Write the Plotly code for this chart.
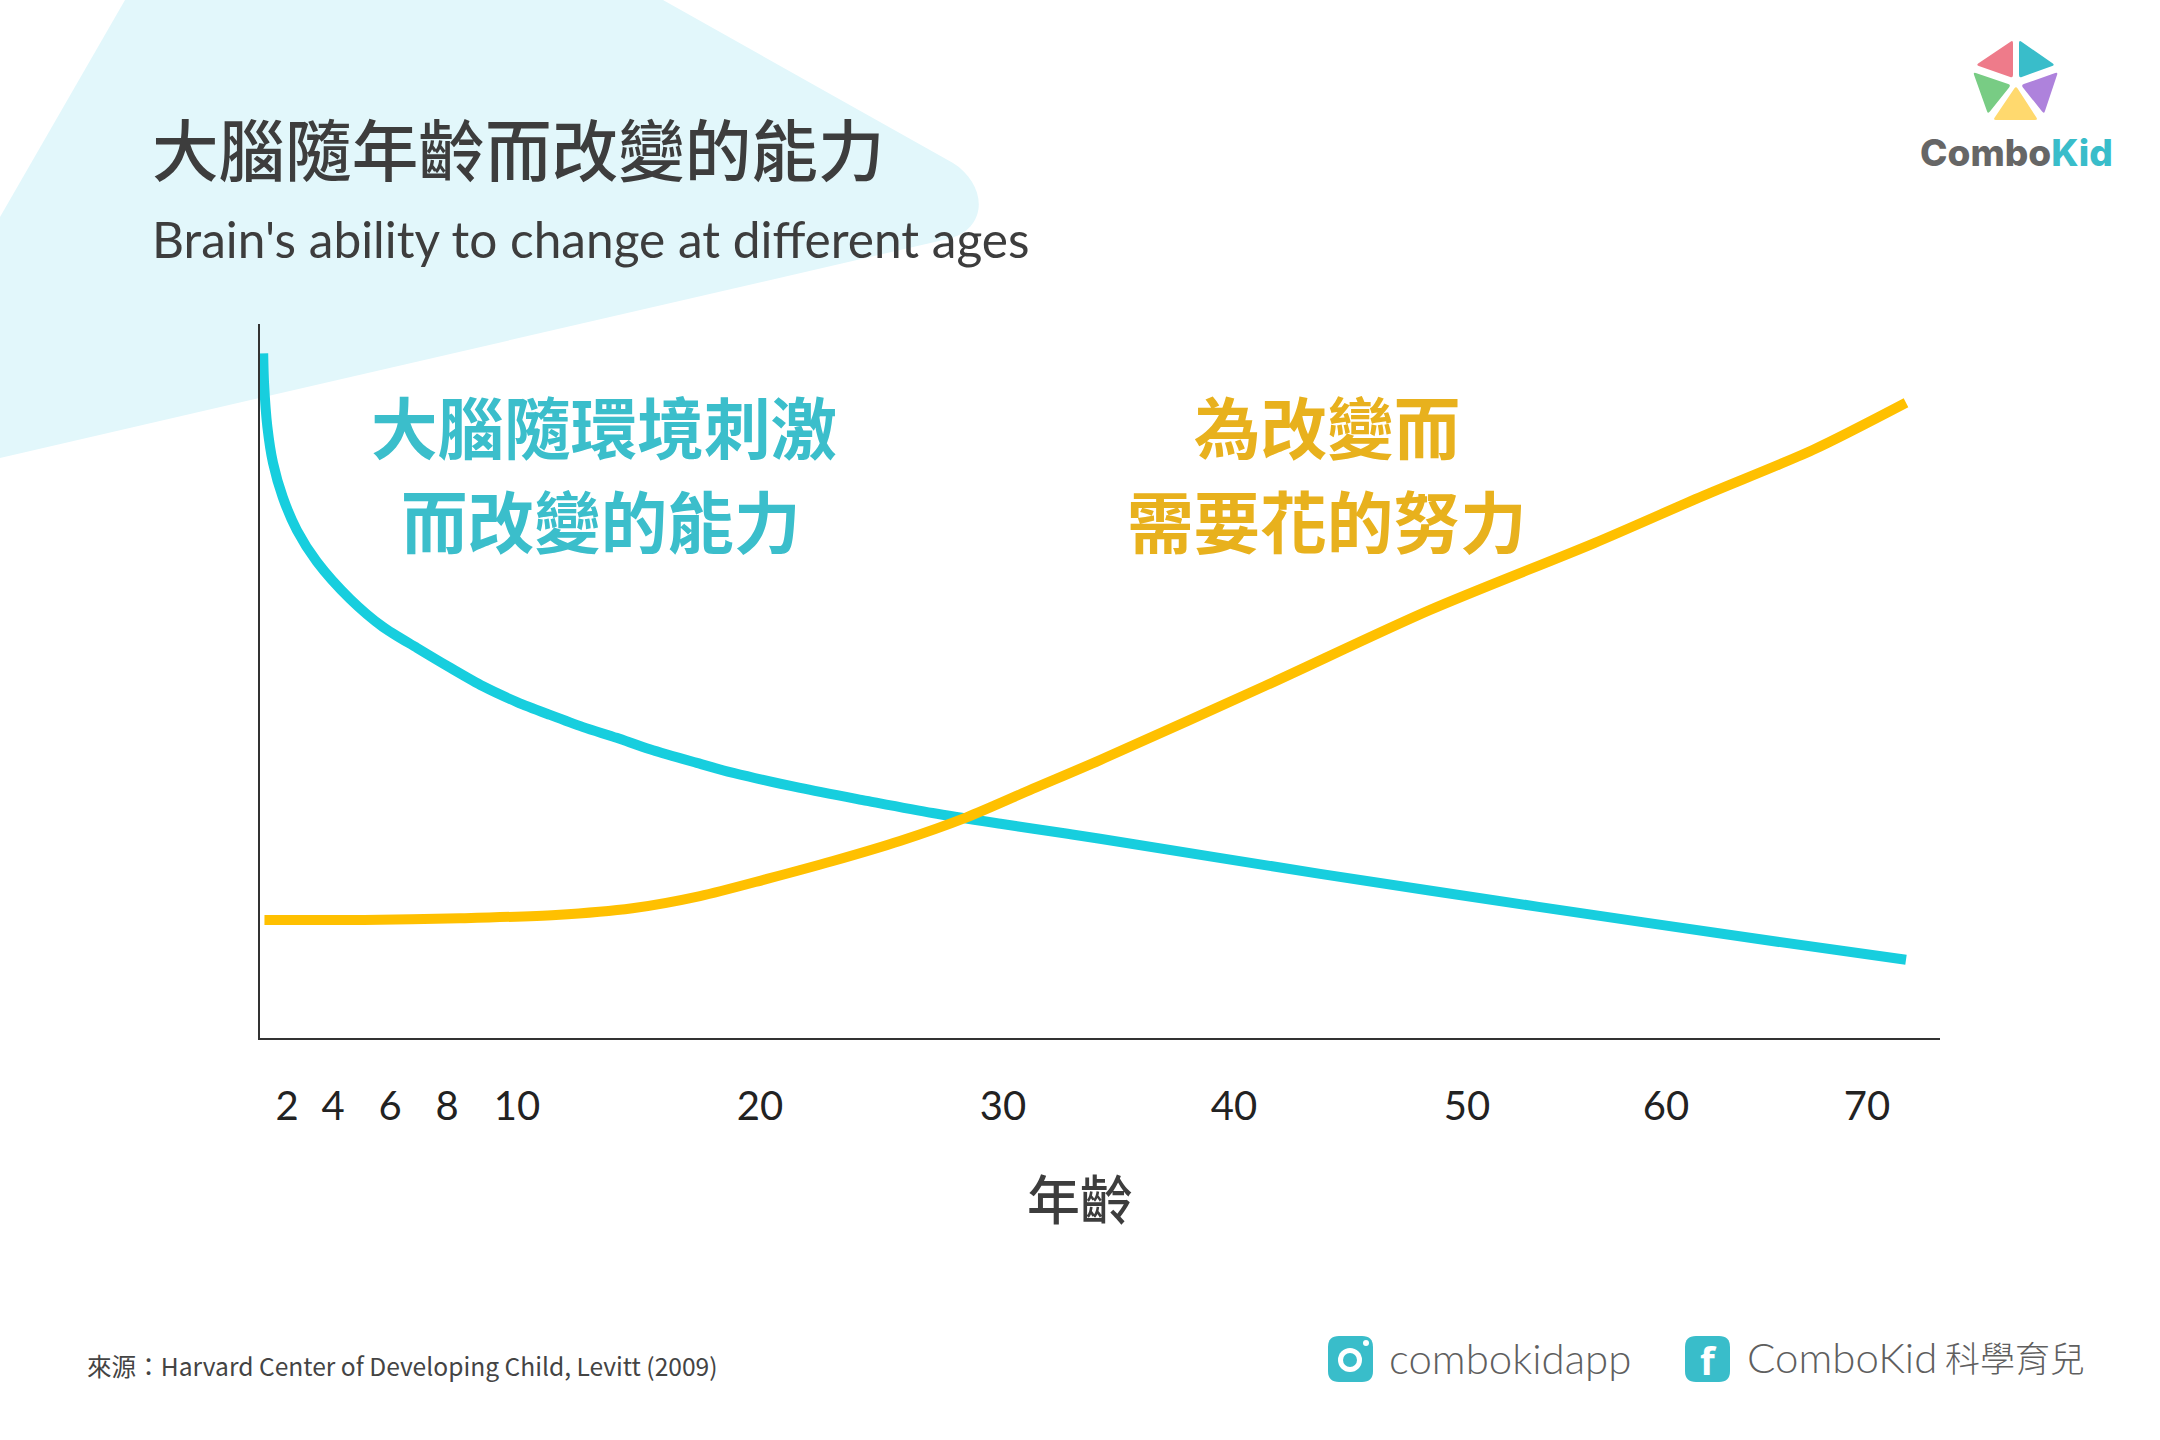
import numpy as np
import plotly.graph_objects as go

W, H = 2160, 1440

# Chart data: ages and values (0-100 relative scale)
plasticity_age = [0.3, 0.36, 0.6, 1.0, 1.7, 2.43, 3.3, 4.6, 5.75, 6.95, 8.09, 9.03, 10, 11.36, 12.72,
                  14.1, 15.47, 17.4, 18.9, 21.65, 24.4, 27.1, 29.9, 32.8, 34.2, 43.7, 53.6, 64.6, 71.95]
plasticity_val = [95.9, 91.8, 85.6, 80.6, 75.8, 71.2, 66.8, 61.6, 57.7, 54.75, 52.0, 49.4, 47.2, 45.4, 43.7,
                  42.2, 40.6, 38.7, 37.3, 35.2, 33.4, 31.7, 30.2, 28.8, 28.1, 23.2, 18.6, 14.1, 11.2]
effort_age = [0.39, 5.09, 8.37, 11.6, 14.75, 17.53, 20.29, 23.0, 25.76, 28.5, 31.3, 34.2,
              41.3, 48.37, 56.4, 61.85, 67.3, 71.95]
effort_val = [16.76, 16.76, 17.0, 17.46, 18.4, 20.1, 22.5, 25.0, 27.8, 31.1, 35.1, 39.1,
              49.4, 60.0, 69.4, 76.0, 82.4, 89.0]

# The age axis is irregular: tick ages and where each sits along the axis
tick_ages = [2, 4, 6, 8, 10, 20, 30, 40, 50, 60, 70]
tick_pos = [287, 333, 390, 447, 517, 760, 1003, 1234, 1467, 1666, 1867]
tick_labels = [str(a) for a in tick_ages]
scale_ages = [0] + tick_ages + [72]
scale_pos = [259] + tick_pos + [1907]

title_text = "大腦隨年齡而改變的能力"
subtitle_text = "Brain's ability to change at different ages"
blue_lines = ["大腦隨環境刺激", "而改變的能力"]
yellow_lines = ["為改變而", "需要花的努力"]
axis_title = "年齡"
source_text = "來源：Harvard Center of Developing Child, Levitt (2009)"

BLUE, YELLOW = "#17cede", "#ffc000"
BLUE_T, YELLOW_T = "#3bbecb", "#e8b11d"
DARK, GREY = "#3d3d3d", "#5f5f5f"
CJK = "Noto Sans CJK TC"


def to_axis(ages):
    return np.interp(ages, scale_ages, scale_pos)


def rounded(pts, r):
    """SVG path for a polygon with softened corners."""
    pts = [np.array(p, float) for p in pts]
    n = len(pts)
    d = ""
    for i, p in enumerate(pts):
        a, b = pts[i - 1], pts[(i + 1) % n]
        p1 = p + (a - p) / np.linalg.norm(a - p) * r
        p2 = p + (b - p) / np.linalg.norm(b - p) * r
        d += f"{'M' if i == 0 else 'L'} {p1[0]:.1f},{p1[1]:.1f} Q {p[0]:.1f},{p[1]:.1f} {p2[0]:.1f},{p2[1]:.1f} "
    return d + "Z"


fig = go.Figure()
# full-canvas helper trace (invisible) keeps the first subplot alive beneath the data
fig.add_trace(go.Scatter(x=[0], y=[0], mode="markers", marker_opacity=0, hoverinfo="skip", showlegend=False,
                         xaxis="x", yaxis="y"))
fig.add_trace(go.Scatter(x=to_axis(plasticity_age), y=plasticity_val, mode="lines", name="大腦隨環境刺激而改變的能力",
                         line=dict(color=BLUE, width=10, shape="spline", smoothing=0.8), xaxis="x2", yaxis="y2"))
fig.add_trace(go.Scatter(x=to_axis(effort_age), y=effort_val, mode="lines", name="為改變而需要花的努力",
                         line=dict(color=YELLOW, width=10, shape="spline", smoothing=0.8), xaxis="x2", yaxis="y2"))

shapes = []


def shape(path, color):
    shapes.append(dict(type="path", path=path, xref="x", yref="y", fillcolor=color,
                       line=dict(width=0), layer="below"))


# pale background blob
shape("M 0,217 L 125,0 L 663,0 L 953,163 C 985,183 990,225 952,238 L 0,458 Z", "#e2f7fb")
# logo pentagon
shape(rounded([(2013, 40), (2013, 78), (1976, 65)], 3), "#ee7b8a")
shape(rounded([(2019, 40), (2055, 65), (2019, 78)], 3), "#39bdca")
shape(rounded([(1973, 72), (2011, 85), (1988, 114)], 3), "#78cc84")
shape(rounded([(2058, 72), (2044, 114), (2021, 85)], 3), "#ae82dc")
shape(rounded([(2016, 86), (2038, 120), (1993, 120)], 3), "#ffd96e")
# instagram icon
shape(rounded([(1328, 1336), (1373, 1336), (1373, 1382), (1328, 1382)], 11), "#39bdca")
# facebook icon
shape(rounded([(1685, 1336), (1730, 1336), (1730, 1382), (1685, 1382)], 11), "#39bdca")
for x0, y0, x1, y1, col in [(1338, 1348, 1362, 1372, "#ffffff"), (1343, 1353, 1357, 1367, "#39bdca"),
                            (1363, 1340, 1369, 1346, "#ffffff")]:
    shapes.append(dict(type="circle", xref="x", yref="y", x0=x0, y0=y0, x1=x1, y1=y1, fillcolor=col,
                       line=dict(width=0), layer="below"))


def note(text, x, y, size, color, family=CJK, weight=None, anchor="center"):
    font = dict(size=size, color=color, family=family)
    if weight:
        font["weight"] = weight
    return dict(text=text, x=x, y=y, xref="x", yref="y", xanchor=anchor, yanchor="middle",
                showarrow=False, font=font)


annotations = [
    note(title_text, 150, 147, 66.6, DARK, weight=500, anchor="left"),
    note(subtitle_text, 150, 239, 49.6, DARK, family="Lato", anchor="left"),
    note(blue_lines[0], 604, 425, 66.6, BLUE_T, weight=700),
    note(blue_lines[1], 601, 519, 66.6, BLUE_T, weight=700),
    note(yellow_lines[0], 1327, 425, 66.6, YELLOW_T, weight=700),
    note(yellow_lines[1], 1327, 519, 66.6, YELLOW_T, weight=700),
    note(axis_title, 1080, 1197, 53, DARK, weight=500),
    note(source_text, 85, 1365, 24.6, "#444444", anchor="left"),
    note("Combo<span style='color:#39bdca'>Kid</span>", 2016, 152, 37, "#666666", family="Inter", weight=800),
    note("combokidapp", 1387, 1358, 42, GREY, family="Lato", weight=300, anchor="left"),
    note("ComboKid", 1745, 1357, 42, GREY, family="Lato", weight=300, anchor="left"),
    note("科學育兒", 1943, 1356, 35, GREY, weight=300, anchor="left"),
    note("f", 1708, 1360, 38, "#ffffff", family="Open Sans", weight=700),
]

fig.update_layout(
    width=W, height=H, margin=dict(l=0, r=0, t=0, b=0), autosize=False,
    paper_bgcolor="white", plot_bgcolor="rgba(0,0,0,0)", showlegend=False,
    shapes=shapes, annotations=annotations,
    xaxis=dict(domain=[0, 1], range=[0, W], visible=False, fixedrange=True),
    yaxis=dict(domain=[0, 1], range=[H, 0], visible=False, fixedrange=True),
    xaxis2=dict(domain=[259.5 / W, 1940 / W], range=[259.5, 1940], anchor="y2", showgrid=False, zeroline=False,
                showline=True, linecolor="#333333", linewidth=2, tickmode="array", tickvals=tick_pos,
                ticktext=tick_labels, ticks="", ticklabelstandoff=32,
                tickfont=dict(size=40, family="Lato", color="#222222")),
    yaxis2=dict(domain=[1 - 1037.5 / H, 1 - 324 / H], range=[0.35, 100], anchor="x2", showgrid=False, zeroline=False,
                showline=True, linecolor="#333333", linewidth=2, showticklabels=False, ticks=""),
)

fig.write_html("out.html", config=dict(displayModeBar=False), post_script="document.body.style.margin='0';")
